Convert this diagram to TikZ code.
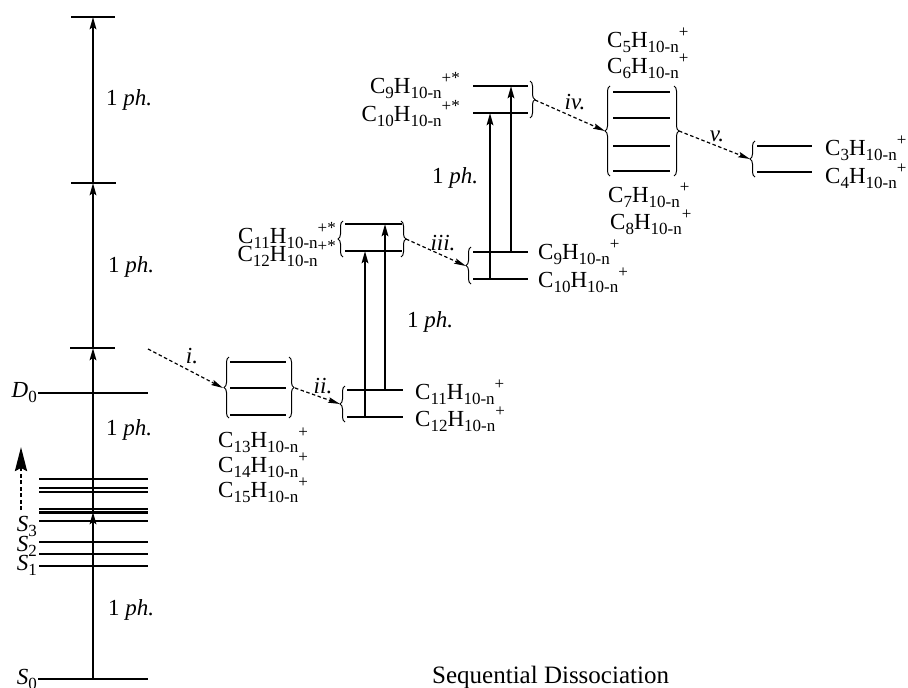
\documentclass[tikz,border=0pt]{standalone}
\usepackage{fontspec}
\setmainfont{Liberation Serif}
\usetikzlibrary{arrows.meta,decorations.pathreplacing}
\newcommand\subx[1]{\raisebox{-5pt}{\fontsize{17}{17}\selectfont #1}}
\newcommand\supx[1]{\raisebox{10pt}{\fontsize{17}{17}\selectfont #1}}
\newcommand\ionlab[2]{C\subx{#1}H\subx{10-n}\supx{#2}}
\begin{document}
\begin{tikzpicture}[x=1pt,y=-1pt,
  lvl/.style={line width=2.7pt},
  thinlvl/.style={line width=2.1pt},
  pharrow/.style={line width=2.4pt,-{Stealth[length=12pt,width=6.5pt,inset=2pt]}},
  dissarrow/.style={line width=1.2pt,dash pattern=on 3.5pt off 2.5pt,-{Stealth[length=12pt,width=5.5pt,inset=2pt]}},
  bigdash/.style={line width=2.6pt,dash pattern=on 4pt off 2.5pt,-{Stealth[length=24pt,width=12pt,inset=3pt]}},
  brc/.style={line width=1pt,decorate,decoration={brace,amplitude=5pt}},
  lab/.style={inner sep=0pt,font=\fontsize{23}{26}\selectfont},
]
\useasboundingbox (0,0) rectangle (908,688);

% ---------------- left column ----------------
\coordinate (S0w) at (38,679);  \coordinate (S0e) at (148,679);
\coordinate (D0w) at (38,393);  \coordinate (D0e) at (148,393);
\coordinate (V1w) at (70,348);  \coordinate (V1e) at (115,348);
\coordinate (V2w) at (71,183);  \coordinate (V2e) at (116,183);
\coordinate (V3w) at (71,17);   \coordinate (V3e) at (115,17);
\draw[lvl] (S0w) -- (S0e);
\draw[lvl] (D0w) -- (D0e);
\draw[lvl] (V1w) -- (V1e);
\draw[lvl] (V2w) -- (V2e);
\draw[lvl] (V3w) -- (V3e);
\foreach \y in {479,488,492,509,512.5,521,542,554,566}
  \draw[thinlvl] (39,\y) -- (148,\y);

\coordinate (A0) at (93,679);
\coordinate (A1) at (93,512);
\coordinate (A2) at (93,348);
\coordinate (A3) at (93,183);
\coordinate (A4) at (93,17);
\draw[pharrow] (A0) -- (A1);
\draw[pharrow] (A1) -- (A2);
\draw[pharrow] (A2) -- (A3);
\draw[pharrow] (A3) -- (A4);

\node[lab] (ph4) at (129,100) {1 \textit{ph.}};
\node[lab] (ph3) at (131,267) {1 \textit{ph.}};
\node[lab] (ph2) at (129,430) {1 \textit{ph.}};
\node[lab] (ph1) at (131,610) {1 \textit{ph.}};

\node[lab,anchor=east] (D0) at (37,393) {\textit{D}\subx{0}};
\node[lab,anchor=east] (S3) at (37,526) {\textit{S}\subx{3}};
\node[lab,anchor=east] (S2) at (37,546) {\textit{S}\subx{2}};
\node[lab,anchor=east] (S1) at (37,565) {\textit{S}\subx{1}};
\node[lab,anchor=east] (S0) at (37,679) {\textit{S}\subx{0}};

\coordinate (up0) at (21,510);
\coordinate (up1) at (21,447);
\draw[bigdash] (up0) -- (up1);

% ---------------- box 1 : C13-C15 ----------------
\foreach \y in {362,388,415} \draw[lvl] (230,\y) -- (286,\y);
\draw[brc] (229,418) -- (229,357);
\draw[brc] (289,357) -- (289,418);
\coordinate (b1Lt) at (223,388);
\coordinate (b1Rt) at (295,388);
\node[lab,anchor=base west] (c13) at (218,447) {\ionlab{13}{+}};
\node[lab,anchor=base west] (c14) at (218,472) {\ionlab{14}{+}};
\node[lab,anchor=base west] (c15) at (218,497) {\ionlab{15}{+}};

\coordinate (istart) at (148,349);
\draw[dissarrow] (istart) -- (b1Lt);
\node[lab] (li) at (192,356) {\textit{i.}};

% ---------------- box 2 : C11/C12 ions ----------------
\coordinate (b2u) at (347,390); \coordinate (b2ue) at (403,390);
\coordinate (b2l) at (347,417); \coordinate (b2le) at (403,417);
\draw[lvl] (b2u) -- (b2ue);
\draw[lvl] (b2l) -- (b2le);
\draw[brc] (345,422) -- (345,386);
\coordinate (b2Lt) at (340,404);
\draw[dissarrow] (b1Rt) -- (b2Lt);
\node[lab] (lii) at (323,386) {\textit{ii.}};
\node[lab,anchor=base west] (c11) at (415,399) {\ionlab{11}{+}};
\node[lab,anchor=base west] (c12) at (415,426) {\ionlab{12}{+}};

% ---------------- box 3 : C11*/C12* ----------------
\draw[lvl] (345,224) -- (402,224);
\draw[lvl] (345,251) -- (402,251);
\draw[brc] (343,257) -- (343,221);
\draw[brc] (401,221) -- (401,257);
\coordinate (b3Rt) at (406,239);
\node[lab,anchor=base east] (c11s) at (336,243) {\ionlab{11}{+*}};
\node[lab,anchor=base east] (c12s) at (336,261) {\ionlab{12}{+*}};

\coordinate (p1a) at (365,417); \coordinate (p1b) at (365,251);
\coordinate (p2a) at (385,390); \coordinate (p2b) at (385,224);
\draw[pharrow] (p1a) -- (p1b);
\draw[pharrow] (p2a) -- (p2b);
\node[lab] (ph5) at (430,322) {1 \textit{ph.}};

% ---------------- box 4 : C9/C10 ions ----------------
\draw[lvl] (473,252) -- (528,252);
\draw[lvl] (473,279) -- (528,279);
\draw[brc] (471,284) -- (471,247);
\coordinate (b4Lt) at (466,266);
\draw[dissarrow] (b3Rt) -- (b4Lt);
\node[lab] (liii) at (443,243) {\textit{iii.}};
\node[lab,anchor=base west] (c9) at (538,259) {\ionlab{9}{+}};
\node[lab,anchor=base west] (c10) at (538,287) {\ionlab{10}{+}};

% ---------------- box 5 : C9*/C10* ----------------
\draw[lvl] (473,86) -- (528,86);
\draw[lvl] (473,113) -- (528,113);
\draw[brc] (530,81) -- (530,118);
\coordinate (b5Rt) at (535,100);
\node[lab,anchor=base east] (c9s) at (460,93) {\ionlab{9}{+*}};
\node[lab,anchor=base east] (c10s) at (460,121) {\ionlab{10}{+*}};

\coordinate (p3a) at (490,279); \coordinate (p3b) at (490,113);
\coordinate (p4a) at (511,252); \coordinate (p4b) at (511,86);
\draw[pharrow] (p3a) -- (p3b);
\draw[pharrow] (p4a) -- (p4b);
\node[lab] (ph6) at (455,178) {1 \textit{ph.}};

% ---------------- box 6 : C5-C8 ----------------
\foreach \y in {92,118,146,171} \draw[lvl] (613,\y) -- (670,\y);
\draw[brc] (610,176) -- (610,86);
\draw[brc] (674,86) -- (674,176);
\coordinate (b6Lt) at (605,131);
\coordinate (b6Rt) at (679,131);
\draw[dissarrow] (b5Rt) -- (b6Lt);
\node[lab] (liv) at (575,102) {\textit{iv.}};
\node[lab,anchor=base west] (c5) at (607,47) {\ionlab{5}{+}};
\node[lab,anchor=base west] (c6) at (607,73) {\ionlab{6}{+}};
\node[lab,anchor=base west] (c7) at (608,202) {\ionlab{7}{+}};
\node[lab,anchor=base west] (c8) at (610,229) {\ionlab{8}{+}};

% ---------------- box 7 : C3/C4 ----------------
\draw[lvl] (757,146) -- (812,146);
\draw[lvl] (757,172) -- (812,172);
\draw[brc] (755,177) -- (755,141);
\coordinate (b7Lt) at (750,159);
\draw[dissarrow] (b6Rt) -- (b7Lt);
\node[lab] (lv) at (717,136) {\textit{v.}};
\node[lab,anchor=base west] (c3) at (825,155) {\ionlab{3}{+}};
\node[lab,anchor=base west] (c4) at (825,183) {\ionlab{4}{+}};

% ---------------- title ----------------
\node[lab,anchor=base west,font=\fontsize{25}{28}\selectfont] (title) at (432,683) {Sequential Dissociation};
\end{tikzpicture}
\end{document}
